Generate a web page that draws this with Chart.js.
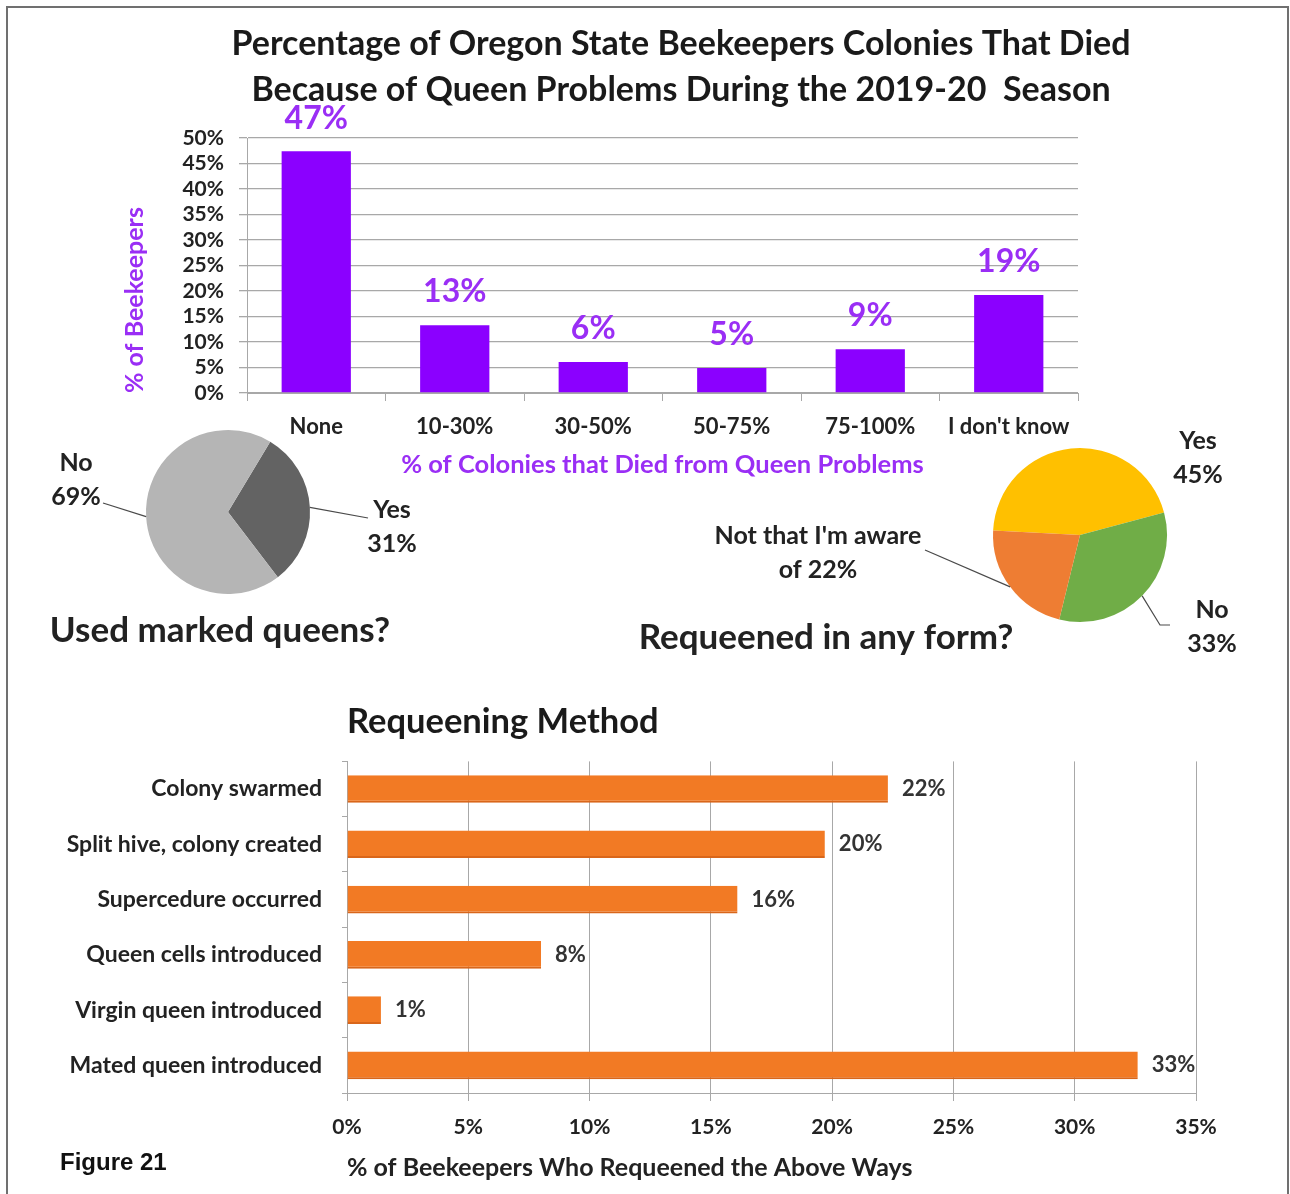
<!DOCTYPE html>
<html>
<head>
<meta charset="utf-8">
<title>Figure 21</title>
<script src="https://cdn.jsdelivr.net/npm/chart.js@4.4.0/dist/chart.umd.min.js"></script>
<style>
  html, body { margin: 0; padding: 0; background: #fff; }
  #page { position: relative; width: 1290px; height: 1194px; overflow: hidden; }
  #page canvas { position: absolute; left: 0; top: 0; }
  #frame { position: absolute; left: 6px; top: 6px; width: 1279px; height: 1200px; border: 2px solid #707070; border-bottom: none; }
  #fig { position: absolute; left: 60px; top: 1148px; font: bold 24px "Liberation Sans", Arial, sans-serif; color: #111; }
</style>
</head>
<body>
<div id="page">
  <div id="frame"></div>
  <canvas id="deaths" width="1290" height="1194"></canvas>
  <canvas id="marked" width="1290" height="1194"></canvas>
  <canvas id="requeened" width="1290" height="1194"></canvas>
  <canvas id="methods" width="1290" height="1194"></canvas>
  <div id="fig">Figure 21</div>
</div>
<script>
// values
const lossCategories = ['None', '10-30%', '30-50%', '50-75%', '75-100%', "I don't know"];
const lossShare = [47.4, 13.3, 6.1, 4.9, 8.6, 19.2];

const markedLabels = ['Yes', 'No'];
const markedShare = [31, 69];

const requeenLabels = ['Yes', 'No', "Not that I'm aware of"];
const requeenShare = [45, 33, 22];

const methodLabels = ['Colony swarmed', 'Split hive, colony created', 'Supercedure occurred',
  'Queen cells introduced', 'Virgin queen introduced', 'Mated queen introduced'];
const methodShare = [22.3, 19.7, 16.1, 8.0, 1.4, 32.6];

const FONT = 'Lato, "Open Sans", sans-serif';
const DARK = '#222222';
const PURPLE = '#8B00FF';
const PURPLE_TEXT = '#9A2EF5';
const GRID = '#a8a8a8';

Chart.defaults.font.family = FONT;
Chart.defaults.font.weight = 'bold';
Chart.defaults.color = DARK;

// value labels on the bars
const barValueLabels = {
  id: 'barValueLabels',
  afterDatasetsDraw(chart, args, opts) {
    const ctx = chart.ctx;
    const data = chart.data.datasets[0].data;
    ctx.save();
    ctx.font = opts.font;
    ctx.fillStyle = opts.color;
    ctx.textBaseline = 'middle';
    chart.getDatasetMeta(0).data.forEach((bar, i) => {
      const txt = Math.round(data[i]) + '%';
      if (opts.horizontal) {
        ctx.textAlign = 'left';
        ctx.fillText(txt, bar.x + opts.offset, bar.y);
      } else {
        ctx.textAlign = 'center';
        ctx.fillText(txt, bar.x, bar.y - opts.offset);
      }
    });
    ctx.restore();
  }
};

// pie callouts, leader lines and the caption under each pie
const pieLabels = {
  id: 'pieLabels',
  afterDatasetsDraw(chart, args, opts) {
    const ctx = chart.ctx;
    const data = chart.data.datasets[0].data;
    ctx.save();
    ctx.strokeStyle = '#4a4a4a';
    ctx.lineWidth = 1.2;
    ctx.fillStyle = DARK;
    ctx.font = opts.font;
    ctx.textAlign = 'center';
    ctx.textBaseline = 'middle';
    chart.getDatasetMeta(0).data.forEach((arc, i) => {
      const spot = opts.spots[i];
      const p = arc.getProps(['x', 'y', 'startAngle', 'endAngle', 'outerRadius'], true);
      const mid = (p.startAngle + p.endAngle) / 2;
      if (spot.line) {
        ctx.beginPath();
        ctx.moveTo(p.x + Math.cos(mid) * p.outerRadius, p.y + Math.sin(mid) * p.outerRadius);
        spot.line.forEach(pt => ctx.lineTo(pt[0], pt[1]));
        ctx.stroke();
      }
      const name = chart.data.labels[i];
      const words = name.split(' ');
      let lines = [name, data[i] + '%'];
      if (words.length > 2) {
        lines = [words.slice(0, -1).join(' '), words[words.length - 1] + ' ' + data[i] + '%'];
      }
      ctx.fillText(lines[0], spot.x, spot.y);
      ctx.fillText(lines[1], spot.x, spot.y + 34);
    });
    ctx.font = opts.titleFont;
    ctx.fillText(opts.title.text, opts.title.x, opts.title.y);
    ctx.restore();
  }
};

new Chart(document.getElementById('deaths'), {
  type: 'bar',
  data: {
    labels: lossCategories,
    datasets: [{
      data: lossShare,
      backgroundColor: PURPLE,
      barPercentage: 1,
      categoryPercentage: 0.5
    }]
  },
  options: {
    responsive: false,
    animation: false,
    layout: { padding: { left: 100, right: 28, top: 0, bottom: 714 } },
    plugins: {
      legend: { display: false },
      tooltip: { enabled: false },
      title: {
        display: true,
        text: ['Percentage of Oregon State Beekeepers Colonies That Died',
               'Because of Queen Problems During the 2019-20  Season'],
        color: '#1a1a1a',
        font: { size: 34, weight: 'bold', lineHeight: 46 / 34 },
        padding: { top: 21, bottom: 25 }
      },
      barValueLabels: { font: 'bold 32px ' + FONT, color: PURPLE_TEXT, offset: 33 }
    },
    scales: {
      x: {
        grid: { drawOnChartArea: false, tickLength: 8, color: GRID },
        border: { color: GRID },
        ticks: { padding: 13, font: { size: 22 }, color: DARK },
        title: {
          display: true,
          text: '% of Colonies that Died from Queen Problems',
          color: PURPLE_TEXT,
          font: { size: 25.5 },
          padding: 0
        },
        afterFit(scale) { scale.height = 87; }
      },
      y: {
        min: 0,
        max: 50,
        ticks: { stepSize: 5, autoSkip: false, callback: v => v + '%', padding: 15, font: { size: 21 }, color: DARK },
        grid: { color: GRID, tickLength: 8, lineWidth: 1.3 },
        border: { color: GRID },
        title: {
          display: true,
          text: '% of Beekeepers',
          align: 'start',
          color: PURPLE_TEXT,
          font: { size: 25 },
          padding: { top: 20, bottom: 0 }
        },
        afterFit(scale) { scale.width = 147; }
      },
      // empty right-hand box so the headline centres where the original does
      spacer: {
        type: 'linear',
        position: 'right',
        grid: { display: false },
        ticks: { display: false },
        border: { display: false },
        afterFit(scale) { scale.width = 184; }
      }
    }
  },
  plugins: [barValueLabels]
});

new Chart(document.getElementById('marked'), {
  type: 'pie',
  data: {
    labels: markedLabels,
    datasets: [{ data: markedShare, backgroundColor: ['#636363', '#b5b5b5'], borderWidth: 0 }]
  },
  options: {
    responsive: false,
    animation: false,
    rotation: 31,
    layout: { padding: { left: 146, right: 980, top: 430, bottom: 600 } },
    plugins: {
      legend: { display: false },
      tooltip: { enabled: false },
      pieLabels: {
        font: 'bold 25px ' + FONT,
        titleFont: 'bold 35px ' + FONT,
        title: { text: 'Used marked queens?', x: 220, y: 631 },
        spots: [
          { x: 392, y: 510, line: [[368, 518]] },
          { x: 76, y: 463, line: [[103, 503]] }
        ]
      }
    }
  },
  plugins: [pieLabels]
});

new Chart(document.getElementById('requeened'), {
  type: 'pie',
  data: {
    labels: requeenLabels,
    datasets: [{ data: requeenShare, backgroundColor: ['#FFC000', '#70AD47', '#EE7D33'], borderWidth: 0 }]
  },
  options: {
    responsive: false,
    animation: false,
    rotation: -87,
    layout: { padding: { left: 993, right: 123, top: 448, bottom: 572 } },
    plugins: {
      legend: { display: false },
      tooltip: { enabled: false },
      pieLabels: {
        font: 'bold 25px ' + FONT,
        titleFont: 'bold 35px ' + FONT,
        title: { text: 'Requeened in any form?', x: 826, y: 638 },
        spots: [
          { x: 1198, y: 441 },
          { x: 1212, y: 610, line: [[1160, 625], [1170, 625]] },
          { x: 818, y: 536, line: [[925, 550]] }
        ]
      }
    }
  },
  plugins: [pieLabels]
});

new Chart(document.getElementById('methods'), {
  type: 'bar',
  data: {
    labels: methodLabels,
    datasets: [{
      data: methodShare,
      backgroundColor: '#F27A24',
      borderColor: '#d9661a',
      borderWidth: { bottom: 2 },
      barPercentage: 1,
      categoryPercentage: 0.5
    }]
  },
  options: {
    indexAxis: 'y',
    responsive: false,
    animation: false,
    layout: { padding: { left: 0, right: 94, top: 690, bottom: 11 } },
    plugins: {
      legend: { display: false },
      tooltip: { enabled: false },
      title: {
        display: true,
        text: 'Requeening Method',
        align: 'start',
        fullSize: false,
        color: '#1a1a1a',
        font: { size: 34.5, weight: 'bold' },
        padding: { top: 11, bottom: 19 }
      },
      barValueLabels: { horizontal: true, font: 'bold 22px ' + FONT, color: '#333', offset: 14 }
    },
    scales: {
      x: {
        min: 0,
        max: 35,
        ticks: { stepSize: 5, callback: v => v + '%', padding: 14, font: { size: 21 }, color: DARK },
        grid: { color: GRID, tickLength: 8 },
        border: { color: GRID },
        title: {
          display: true,
          text: '% of Beekeepers Who Requeened the Above Ways',
          align: 'start',
          color: DARK,
          font: { size: 25 },
          padding: { top: 0, bottom: 0 }
        },
        afterFit(scale) { scale.height = 90; }
      },
      y: {
        grid: { drawOnChartArea: false, tickLength: 5, color: GRID },
        border: { color: GRID },
        ticks: { padding: 20, font: { size: 23 }, color: DARK },
        afterFit(scale) { scale.width = 347; }
      }
    }
  },
  plugins: [barValueLabels]
});
</script>
</body>
</html>
